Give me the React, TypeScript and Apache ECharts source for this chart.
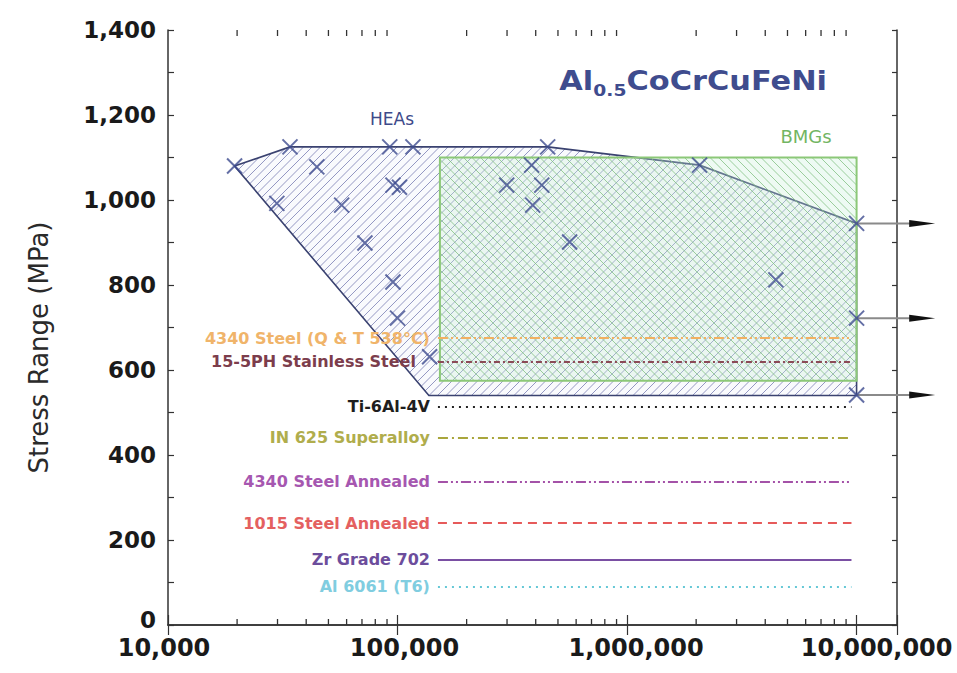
import React, { useEffect, useRef } from "react";
import * as echarts from "echarts";

// ---------- data ----------
const X_MIN = 10000;
const X_MAX = 15000000;
const Y_MIN = 0;
const Y_MAX = 1400;
const Y_STEP = 200;

// HEA fatigue data points (cycles to failure, stress range MPa)
const HEA_CYCLES = [
  19500, 34000, 44500, 29800, 57100, 72100, 92500, 116700, 95500, 102000, 95500, 100000,
  138000, 451000, 384000, 299000, 425000, 388000, 562000, 2070000, 4450000, 10000000,
  10000000, 10000000,
];
const HEA_STRESS = [
  1080, 1125, 1078, 992, 988, 899, 1125, 1125, 1035, 1030, 807, 722,
  631, 1125, 1082, 1035, 1035, 988, 901, 1082, 812, 945,
  722, 541,
];

// HEA scatter band envelope
const HEA_ENVELOPE_CYCLES = [19500, 34000, 451000, 2070000, 10000000, 10000000, 137000];
const HEA_ENVELOPE_STRESS = [1080, 1125, 1125, 1082, 945, 540, 540];

// BMG scatter band
const BMG_CYCLES = [153000, 10000000, 10000000, 153000];
const BMG_STRESS = [1100, 1100, 575, 575];

// run-out arrows
const RUNOUT_STRESS = [945, 722, 541];
const RUNOUT_FROM = 10000000;
const RUNOUT_TO = 22000000;

// conventional alloy endurance limits
const ALLOY_NAMES = [
  "4340 Steel (Q & T 538°C)",
  "15-5PH Stainless Steel",
  "Ti-6Al-4V",
  "IN 625 Superalloy",
  "4340 Steel Annealed",
  "1015 Steel Annealed",
  "Zr Grade 702",
  "Al 6061 (T6)",
];
const ALLOY_LIMITS = [675, 620, 513, 441, 338, 240, 153, 91];
const ALLOY_FROM = 150000;
const ALLOY_TO = 9500000;

// minor ticks of the log axis
const MINOR_TICKS = [
  20000, 30000, 40000, 50000, 60000, 70000, 80000, 90000,
  200000, 300000, 400000, 500000, 600000, 700000, 800000, 900000,
  2000000, 3000000, 4000000, 5000000, 6000000, 7000000, 8000000, 9000000,
];

// ---------- styles ----------
const ALLOY_COLORS = ["#f2b060", "#8b4a56", "#222222", "#a9a63c", "#a452a8", "#e65a5a", "#7a4fa3", "#66c8d6"];
const ALLOY_LABEL_COLORS = ["#f0b46a", "#7c3d4c", "#1e1e1e", "#b0ad4c", "#a657b0", "#e46060", "#6c4d9c", "#80cde0"];
const ALLOY_DASH: any[] = [[10, 3, 2, 3, 2, 3], [6, 3, 2, 3], [2, 5], [10, 4, 2, 4], [10, 3, 2, 3, 2, 3], [9, 6], "solid", [2, 5]];
const ALLOY_LABEL_GAP = [8, 22, 8, 8, 8, 8, 8, 8];

const AXIS_COLOR = "#333333";
const HEA_COLOR = "#3d4b8e";
const FONT = "DejaVu Sans";

type P = [number, number];

function hatchLines(pts: P[], dir: number, step: number): number[][] {
  const n = pts.length;
  let cx = 0, cy = 0;
  pts.forEach((p) => { cx += p[0]; cy += p[1]; });
  cx /= n; cy /= n;
  const edges = pts.map((a, i) => {
    const b = pts[(i + 1) % n];
    let nx = -(b[1] - a[1]);
    let ny = b[0] - a[0];
    if (nx * (cx - a[0]) + ny * (cy - a[1]) < 0) { nx = -nx; ny = -ny; }
    return { a, nx, ny };
  });
  const xs = pts.map((p) => p[0]);
  const ys = pts.map((p) => p[1]);
  const minX = Math.min(...xs), maxX = Math.max(...xs);
  const minY = Math.min(...ys), maxY = Math.max(...ys);
  const dx = 1, dy = dir === 1 ? -1 : 1;
  const cMin = dir === 1 ? minX + minY : minX - maxY;
  const cMax = dir === 1 ? maxX + maxY : maxX - minY;
  const out: number[][] = [];
  for (let c = Math.ceil(cMin / step) * step; c <= cMax; c += step) {
    const px = c, py = 0;
    let t0 = -Infinity, t1 = Infinity, ok = true;
    for (const e of edges) {
      const num = e.nx * (px - e.a[0]) + e.ny * (py - e.a[1]);
      const den = e.nx * dx + e.ny * dy;
      if (Math.abs(den) < 1e-9) {
        if (num < 0) { ok = false; break; }
        continue;
      }
      const t = -num / den;
      if (den > 0) t0 = Math.max(t0, t);
      else t1 = Math.min(t1, t);
    }
    if (!ok || t1 <= t0) continue;
    out.push([px + t0 * dx, py + t0 * dy, px + t1 * dx, py + t1 * dy]);
  }
  return out;
}

function bandRenderer(cycles: number[], stress: number[], cfg: any) {
  return (_params: any, api: any) => {
    const pts: P[] = cycles.map((c, i) => api.coord([c, stress[i]]));
    const lines = hatchLines(pts, cfg.dir, cfg.step);
    return {
      type: "group",
      children: [
        { type: "polygon", shape: { points: pts }, style: { fill: cfg.fill, stroke: "none" } },
        ...lines.map((l) => ({
          type: "line",
          shape: { x1: l[0], y1: l[1], x2: l[2], y2: l[3] },
          style: { stroke: cfg.hatch, lineWidth: 1 },
        })),
        { type: "polygon", shape: { points: pts }, style: { fill: "none", stroke: cfg.border, lineWidth: cfg.borderWidth } },
      ],
    };
  };
}

function xLabel(v: number) {
  const lg = Math.log10(v);
  const e = Math.round(lg);
  if (Math.abs(lg - e) > 1e-6) return "";
  return `{l${e}|${Math.round(v).toLocaleString("en-US")}}`;
}

function yLabel(v: number) {
  const s = v.toLocaleString("en-US");
  return v === 0 ? `{z|${s}}` : `{n|${s}}`;
}

const xRichBase = { fontFamily: FONT, fontWeight: "bold", fontSize: 24, color: "#1a1a1a" };
const yRichBase = { fontFamily: FONT, fontWeight: "bold", fontSize: 23, color: "#1a1a1a" };

export default function App() {
  const ref = useRef<HTMLDivElement>(null);

  useEffect(() => {
    document.body.style.margin = "0";
    if (!ref.current) return;
    const chart = echarts.init(ref.current, null, { renderer: "svg" });

    const alloySeries = ALLOY_NAMES.map((name, i) => ({
      type: "line",
      name,
      data: [],
      z: 1,
      markLine: {
        silent: true,
        animation: false,
        symbol: ["none", "none"],
        lineStyle: { color: ALLOY_COLORS[i], width: 2, type: ALLOY_DASH[i] },
        label: {
          show: true,
          position: "start",
          distance: ALLOY_LABEL_GAP[i],
          formatter: name,
          color: ALLOY_LABEL_COLORS[i],
          fontFamily: FONT,
          fontWeight: "bold",
          fontSize: 16,
        },
        emphasis: { disabled: true },
        data: [[{ coord: [ALLOY_FROM, ALLOY_LIMITS[i]] }, { coord: [ALLOY_TO, ALLOY_LIMITS[i]] }]],
      },
    }));

    const option: any = {
      animation: false,
      backgroundColor: "#ffffff",
      grid: { left: 168, right: 60, top: 30, bottom: 48 },
      xAxis: [
        {
          type: "log",
          logBase: 10,
          min: X_MIN,
          max: X_MAX,
          position: "bottom",
          axisLine: { show: true, lineStyle: { color: AXIS_COLOR, width: 1.5 } },
          axisTick: { show: true, inside: true, length: 10, lineStyle: { color: AXIS_COLOR, width: 1.2 } },
          splitLine: { show: false },
          axisLabel: {
            margin: 11,
            formatter: xLabel,
            rich: {
              l4: { ...xRichBase, padding: [0, 8, 0, 0] },
              l5: { ...xRichBase, padding: [0, 0, 0, 14] },
              l6: { ...xRichBase, padding: [0, 0, 0, 18] },
              l7: { ...xRichBase, padding: [0, 0, 0, 40] },
            },
          },
        },
        {
          type: "log",
          logBase: 10,
          min: X_MIN,
          max: X_MAX,
          position: "top",
          axisLine: { show: true, lineStyle: { color: AXIS_COLOR, width: 1.5 } },
          axisTick: { show: true, inside: true, length: 10, lineStyle: { color: AXIS_COLOR, width: 1.2 } },
          splitLine: { show: false },
          axisLabel: { show: false },
        },
      ],
      yAxis: [
        {
          type: "value",
          min: Y_MIN,
          max: Y_MAX,
          interval: Y_STEP,
          position: "left",
          name: "Stress Range (MPa)",
          nameLocation: "middle",
          nameGap: 116,
          nameTextStyle: { fontFamily: FONT, fontSize: 26, color: "#2a2a2a", padding: [0, 40, 0, 0] },
          axisLine: { show: true, lineStyle: { color: AXIS_COLOR, width: 1.5 } },
          axisTick: { show: true, inside: true, length: 6, lineStyle: { color: AXIS_COLOR, width: 1.2 } },
          minorTick: { show: true, splitNumber: 2, length: 6, lineStyle: { color: AXIS_COLOR, width: 1.2 } },
          splitLine: { show: false },
          minorSplitLine: { show: false },
          axisLabel: {
            margin: 12,
            formatter: yLabel,
            rich: {
              n: { ...yRichBase },
              z: { ...yRichBase, padding: [0, 0, 10, 0] },
            },
          },
        },
        {
          type: "value",
          min: Y_MIN,
          max: Y_MAX,
          interval: Y_STEP / 2,
          position: "right",
          axisLine: { show: true, lineStyle: { color: AXIS_COLOR, width: 1.5 } },
          axisTick: { show: true, inside: true, length: 5, lineStyle: { color: AXIS_COLOR, width: 1.2 } },
          splitLine: { show: false },
          axisLabel: { show: false },
        },
      ],
      series: [
        ...alloySeries,
        {
          type: "custom",
          name: "HEAs band",
          silent: true,
          z: 2,
          data: [[HEA_ENVELOPE_CYCLES[0], HEA_ENVELOPE_STRESS[0]]],
          renderItem: bandRenderer(HEA_ENVELOPE_CYCLES, HEA_ENVELOPE_STRESS, {
            dir: 1,
            step: 8.5,
            fill: "rgba(225,228,245,0.2)",
            hatch: "rgba(105,110,170,0.7)",
            border: "#3a4270",
            borderWidth: 1.6,
          }),
        },
        {
          type: "custom",
          name: "BMGs band",
          silent: true,
          z: 3,
          data: [[BMG_CYCLES[0], BMG_STRESS[0]]],
          renderItem: bandRenderer(BMG_CYCLES, BMG_STRESS, {
            dir: -1,
            step: 8.5,
            fill: "rgba(200,238,215,0.3)",
            hatch: "rgba(125,190,125,0.75)",
            border: "#8cc878",
            borderWidth: 2,
          }),
        },
        {
          type: "custom",
          name: "log minor ticks",
          silent: true,
          clip: false,
          z: 9,
          data: [[X_MIN, Y_MAX]],
          renderItem: (params: any, api: any) => {
            const cs = params.coordSys;
            const top = cs.y;
            const bottom = cs.y + cs.height;
            const children: any[] = [];
            MINOR_TICKS.forEach((v) => {
              const x = api.coord([v, Y_MAX])[0];
              children.push({ type: "line", shape: { x1: x, y1: bottom, x2: x, y2: bottom - 6 }, style: { stroke: AXIS_COLOR, lineWidth: 1.3 } });
              children.push({ type: "line", shape: { x1: x, y1: top, x2: x, y2: top + 6 }, style: { stroke: AXIS_COLOR, lineWidth: 1.3 } });
            });
            return { type: "group", children };
          },
        },
        {
          type: "custom",
          name: "run-outs",
          silent: true,
          clip: false,
          z: 9,
          data: RUNOUT_STRESS.map((s) => [RUNOUT_FROM, s]),
          renderItem: (_p: any, api: any) => {
            const s = api.value(1);
            const a = api.coord([RUNOUT_FROM, s]);
            const b = api.coord([RUNOUT_TO, s]);
            return {
              type: "group",
              children: [
                { type: "line", shape: { x1: a[0], y1: a[1], x2: b[0] - 20, y2: b[1] }, style: { stroke: "#8a8a8a", lineWidth: 2 } },
                {
                  type: "polygon",
                  shape: { points: [[b[0] - 26, b[1] - 3.5], [b[0], b[1]], [b[0] - 26, b[1] + 3.5]] },
                  style: { fill: "#111111" },
                },
              ],
            };
          },
        },
        {
          type: "scatter",
          name: "HEAs",
          z: 10,
          symbol: "path://M0,0L10,10M10,0L0,10",
          symbolSize: 15,
          itemStyle: { color: "rgba(0,0,0,0)", borderColor: HEA_COLOR, borderWidth: 2 },
          data: HEA_CYCLES.map((c, i) => [c, HEA_STRESS[i]]),
        },
      ],
      graphic: [
        {
          type: "text",
          x: 827,
          y: 81,
          scaleX: 1.17,
          style: {
            text: "{a|Al}{s|0.5}{a|CoCrCuFeNi}",
            align: "right",
            verticalAlign: "middle",
            textAlign: "right",
            textVerticalAlign: "middle",
            rich: {
              a: { fontFamily: FONT, fontWeight: "bold", fontSize: 26, fill: "#3f4c8e", color: "#3f4c8e", lineHeight: 34 },
              s: { fontFamily: FONT, fontWeight: "bold", fontSize: 16, fill: "#3f4c8e", color: "#3f4c8e", lineHeight: 16, verticalAlign: "bottom" },
            },
          },
        },
        {
          type: "text",
          x: 392,
          y: 119,
          style: { text: "HEAs", fontFamily: FONT, fontSize: 17, fill: "#3d4a8a", align: "center", verticalAlign: "middle", textAlign: "center", textVerticalAlign: "middle" },
        },
        {
          type: "text",
          x: 806,
          y: 136,
          style: { text: "BMGs", fontFamily: FONT, fontSize: 18, fill: "#72b562", align: "center", verticalAlign: "middle", textAlign: "center", textVerticalAlign: "middle" },
        },
      ],
    };

    chart.setOption(option);
    return () => chart.dispose();
  }, []);

  return <div ref={ref} style={{ width: 957, height: 673 }} />;
}
